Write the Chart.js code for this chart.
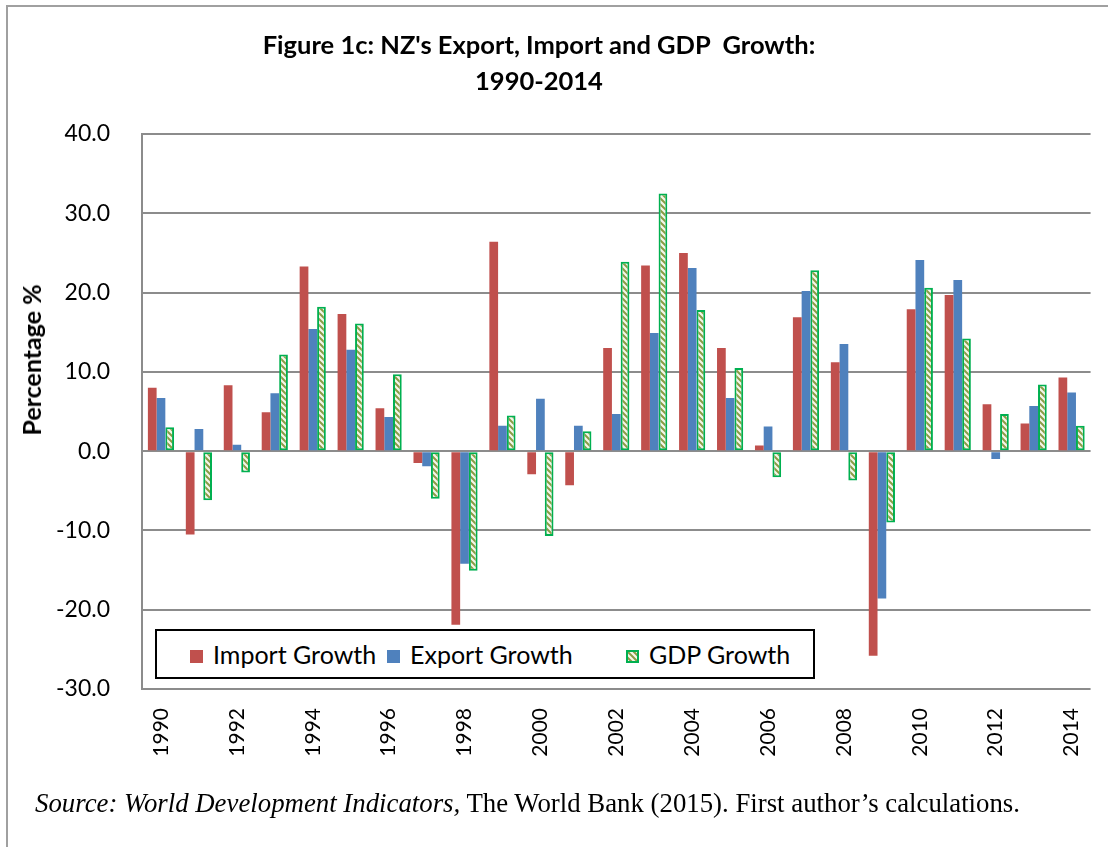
<!DOCTYPE html>
<html>
<head>
<meta charset="utf-8">
<script src="https://cdn.jsdelivr.net/npm/chart.js@4/dist/chart.umd.min.js"></script>
<style>
  body { margin: 0; background: #fff; }
  #wrap { position: relative; width: 1108px; height: 847px; overflow: hidden; background: #fff; }
  #frame { position: absolute; left: 6px; top: 5px; width: 1200px; height: 900px; border: 2px solid #a0a0a0; }
  #chart { position: absolute; left: 0; top: 0; }
  #titulo { position: absolute; left: 0; width: 1078px; top: 26px; text-align: center;
    font: bold 25.5px Lato, sans-serif; line-height: 36px; color: #000; }
  #ytitulo { position: absolute; left: 31px; top: 360px; transform: translate(-50%, -50%) rotate(-90deg);
    font: bold 25px Lato, sans-serif; white-space: nowrap; color: #000; }
  #leyenda { position: absolute; left: 155px; top: 629px; width: 656px; height: 46px;
    border: 2px solid #000; background: #fff; font: 25px Lato, sans-serif; color: #000; }
  #leyenda span.item { position: absolute; top: 8px; white-space: nowrap; }
  #leyenda i { display: inline-block; width: 13px; height: 13px; margin-right: 10px; vertical-align: 1px; }
  #fuente { position: absolute; left: 35px; top: 788px; font: 26.8px "Liberation Serif", "Times New Roman", serif; color: #000; white-space: nowrap; }
</style>
</head>
<body>
<div id="wrap">
  <div id="frame"></div>
  <canvas id="chart" width="1108" height="847"></canvas>
  <div id="titulo">Figure 1c: NZ's Export, Import and GDP&nbsp; Growth:<br>1990-2014</div>
  <div id="ytitulo">Percentage %</div>
  <div id="leyenda">
    <span class="item" style="left:33px"><i style="background:#C0504D"></i>Import Growth</span>
    <span class="item" style="left:230px"><i style="background:#4F81BD"></i>Export Growth</span>
    <span class="item" style="left:469px"><i id="swatchGdp"></i>GDP Growth</span>
  </div>
  <div id="fuente"><i>Source: World Development Indicators,</i> The World Bank (2015). First author’s calculations.</div>
</div>
<script>
// Datos (crecimiento % anual)
var anios = ['1990','1991','1992','1993','1994','1995','1996','1997','1998','1999','2000','2001','2002',
  '2003','2004','2005','2006','2007','2008','2009','2010','2011','2012','2013','2014'];
var importGrowth = [8.0,-10.5,8.3,4.9,23.3,17.3,5.4,-1.5,-21.9,26.4,-2.9,-4.3,13.0,
  23.4,25.0,13.0,0.7,16.9,11.2,-25.8,17.9,19.7,5.9,3.5,9.3];
var exportGrowth = [6.7,2.8,0.8,7.3,15.4,12.8,4.3,-1.9,-14.2,3.2,6.6,3.2,4.7,
  14.9,23.1,6.7,3.1,20.2,13.5,-18.6,24.1,21.6,-1.0,5.7,7.4];
var gdpGrowth = [3.0,-6.2,-2.7,12.2,18.2,16.1,9.7,-6.0,-15.1,4.5,-10.7,2.5,23.9,
  32.5,17.8,10.5,-3.3,22.8,-3.7,-9.0,20.6,14.2,4.7,8.4,3.2];

// patrón de rayas diagonales para el PIB
function rayas() {
  var c = document.createElement('canvas');
  c.width = 6; c.height = 6;
  var g = c.getContext('2d');
  g.fillStyle = '#f4f6ea';
  g.fillRect(0, 0, 6, 6);
  g.strokeStyle = '#8a9c45';
  g.lineWidth = 2;
  g.beginPath();
  g.moveTo(-1, -1); g.lineTo(7, 7);
  g.moveTo(-4, 2); g.lineTo(4, 10);
  g.moveTo(2, -4); g.lineTo(10, 4);
  g.stroke();
  return c;
}
var patronCanvas = rayas();
var ctx = document.getElementById('chart').getContext('2d');
var patron = ctx.createPattern(patronCanvas, 'repeat');

var sw = document.getElementById('swatchGdp');
sw.style.background = 'url(' + patronCanvas.toDataURL() + ')';
sw.style.boxSizing = 'border-box';
sw.style.border = '2px solid #00B050';

var gris = '#8c8c8c';

new Chart(ctx, {
  type: 'bar',
  data: {
    labels: anios,
    datasets: [
      { label: 'Import Growth', data: importGrowth, backgroundColor: '#C0504D', borderWidth: 0 },
      { label: 'Export Growth', data: exportGrowth, backgroundColor: '#4F81BD', borderWidth: 0 },
      { label: 'GDP Growth', data: gdpGrowth, backgroundColor: patron, borderColor: '#00B050',
        borderWidth: 2, borderSkipped: false }
    ]
  },
  options: {
    responsive: false,
    animation: false,
    layout: { padding: { left: 0, right: 10, top: 134, bottom: 0 } },
    datasets: { bar: { barPercentage: 1.0, categoryPercentage: 0.69 } },
    plugins: { legend: { display: false }, tooltip: { enabled: false } },
    scales: {
      x: {
        grid: { display: false },
        border: { display: false },
        ticks: {
          autoSkip: false, maxRotation: 90, minRotation: 90, padding: 11,
          color: '#000', font: { family: 'Lato', size: 21 },
          callback: function(v, i) { return i % 2 === 0 ? anios[i] : ''; }
        },
        afterFit: function(s) { s.height = 158; }
      },
      y: {
        min: -30, max: 40,
        grid: { color: gris, lineWidth: 2, drawTicks: false },
        border: { display: true, color: gris, width: 2 },
        ticks: {
          stepSize: 10, padding: 32, color: '#000', font: { family: 'Lato', size: 23 },
          callback: function(v) { return v.toFixed(1); }
        },
        afterFit: function(s) { s.width = 142; }
      }
    }
  }
});
</script>
</body>
</html>
